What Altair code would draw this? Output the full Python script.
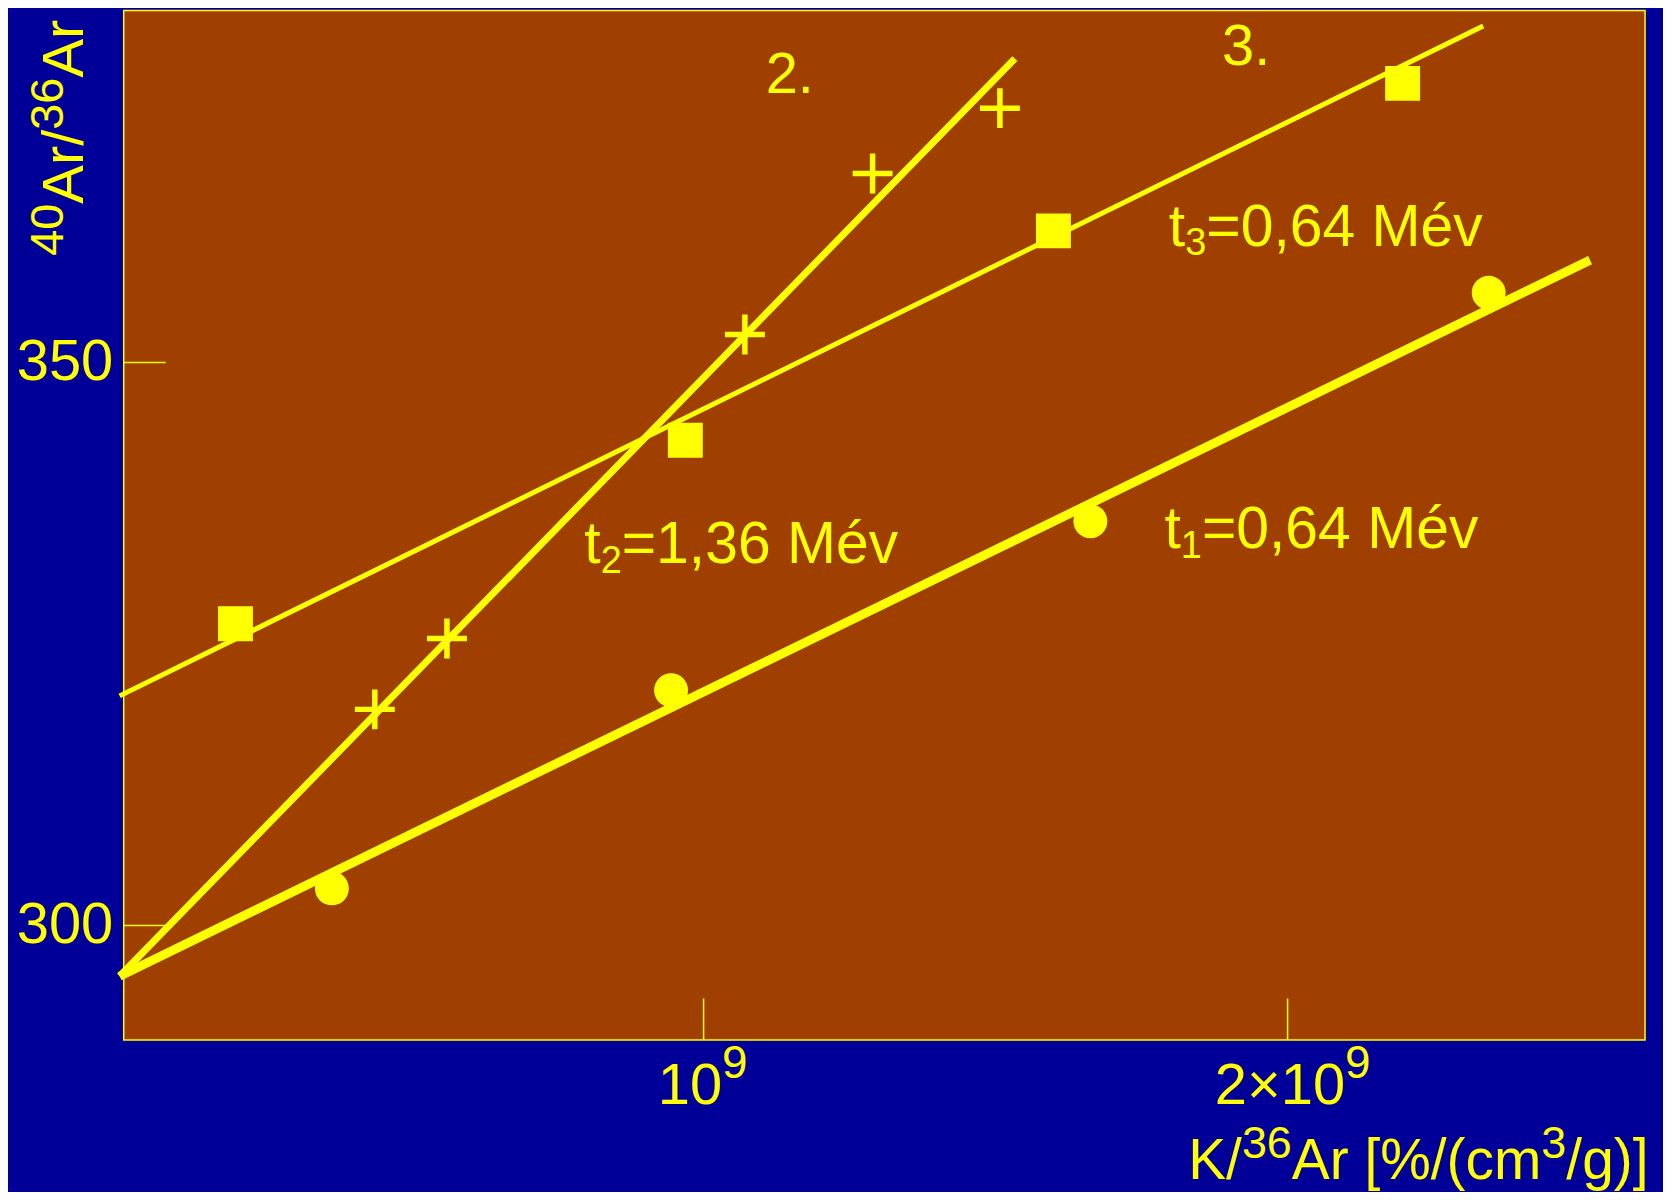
import altair as alt
import pandas as pd

# ---------------- values ----------------
# series 1: circles (t1 = 0,64 Mév)
circ_x = [0.3635e9, 0.9443e9, 1.6623e9, 2.3444e9]
circ_y = [303.3, 320.9, 335.9, 356.2]
# series 2: crosses (t2 = 1,36 Mév)
cross_x = [0.437e9, 0.5605e9, 1.0707e9, 1.2894e9, 1.5074e9]
cross_y = [319.2, 325.5, 352.5, 366.8, 372.6]
# series 3: squares (t3 = 0,64 Mév)
sq_x = [0.1983e9, 0.9687e9, 1.599e9, 2.197e9]
sq_y = [326.8, 343.1, 361.7, 374.8]
# fitted isochrons (start, end)
fit1_x = [0.0, 2.518e9]
fit1_y = [295.5, 359.1]
fit2_x = [0.0, 1.533e9]
fit2_y = [295.5, 377.0]
fit3_x = [0.0, 2.335e9]
fit3_y = [320.4, 379.9]
# axes
x_ticks = [1e9, 2e9]
y_ticks = [300, 350]
x_domain = [0.007e9, 2.6121e9]
y_domain = [289.84, 381.28]
# annotations
num_text = ["2.", "3."]
num_x = [1.1063e9, 1.8878e9]
num_y = [373.95, 376.47]
age_sub = ["1", "2", "3"]
age_rest = ["=0,64 Mév", "=1,36 Mév", "=0,64 Mév"]
age_x = [1.7892e9, 0.7957e9, 1.7967e9]
age_y = [333.5, 332.2, 360.4]

# ---------------- style ----------------
FONT = "Liberation Sans"
YELLOW = "#FFFF00"
BLUE = "#000099"
BROWN = "#A04000"
W, H = 1525, 1032
PAD_L, PAD_T, PAD_R, PAD_B = 116, 1, 18, 151


def rx(ax):
    return ax - 8 - PAD_L


def ry(ay):
    return ay - 8 - PAD_T


ADV = {"0": .556, "1": .556, "2": .556, "3": .556, "4": .556, "5": .556,
       "6": .556, "7": .556, "8": .556, "9": .556, "A": .667, "r": .333,
       "/": .278, "K": .667, " ": .278, "[": .278, "]": .278, "%": .889,
       "(": .333, ")": .333, "c": .5, "m": .833, "g": .556, "×": .584,
       "t": .278, "=": .584, ",": .278, "M": .833, "é": .556, "v": .5,
       ".": .278}


def adv(s, size):
    return sum(ADV.get(ch, 0.556) for ch in s) * size


xscale = alt.Scale(domain=x_domain, nice=False, zero=False)
yscale = alt.Scale(domain=y_domain, nice=False, zero=False)
yaxis = alt.Axis(values=y_ticks, title=None, labelFont=FONT, labelFontSize=58,
                 labelColor=YELLOW, ticks=False, tickSize=0, domain=False,
                 grid=False, labelPadding=11)


def X():
    return alt.X("x:Q", scale=xscale, axis=None)


def Y():
    return alt.Y("y:Q", scale=yscale, axis=yaxis)


ONE = pd.DataFrame({"a": [0]})


def piece(text, size, x, y, dx=0, dy=0, angle=None, data=None):
    mk = dict(text=text, font=FONT, fontSize=size, color=YELLOW,
              align="left", baseline="alphabetic", dx=dx, dy=dy)
    if angle is not None:
        mk["angle"] = angle
    return alt.Chart(ONE if data is None else data).mark_text(**mk).encode(x=x, y=y)


layers = []

# fitted lines
for xs, ys, w in [(fit1_x, fit1_y, 9), (fit2_x, fit2_y, 7), (fit3_x, fit3_y, 5)]:
    layers.append(
        alt.Chart(pd.DataFrame({"x": xs, "y": ys}))
        .mark_line(color=YELLOW, strokeWidth=w, clip=False)
        .encode(x=X(), y=Y())
    )

# markers
layers.append(
    alt.Chart(pd.DataFrame({"x": circ_x, "y": circ_y}))
    .mark_point(shape="circle", filled=True, size=1156, color=YELLOW, opacity=1)
    .encode(x=X(), y=Y())
)
layers.append(
    alt.Chart(pd.DataFrame({"x": sq_x, "y": sq_y}))
    .mark_point(shape="square", filled=True, size=1225, color=YELLOW, opacity=1)
    .encode(x=X(), y=Y())
)
layers.append(
    alt.Chart(pd.DataFrame({"x": cross_x, "y": cross_y}))
    .mark_point(shape="M-1,0H1M0,-1V1", filled=False, size=1600, color=YELLOW,
                strokeWidth=5.5, opacity=1)
    .encode(x=X(), y=Y())
)

# inward ticks
layers.append(
    alt.Chart(pd.DataFrame({"x": x_ticks}))
    .mark_rule(color=YELLOW, strokeWidth=1.5)
    .encode(x=X(), y=alt.value(H - 41.5), y2=alt.value(H))
)
layers.append(
    alt.Chart(pd.DataFrame({"y": y_ticks}))
    .mark_rule(color=YELLOW, strokeWidth=1.5)
    .encode(y=Y(), x=alt.value(0), x2=alt.value(42))
)

# x tick labels with superscripts
for tx, main, dx0 in [(x_ticks[0], "10", -46.0), (x_ticks[1], "2×10", -73.0)]:
    d = pd.DataFrame({"x": [tx]})
    layers.append(piece(main, 58, X(), alt.value(ry(1105)), dx=dx0, data=d))
    layers.append(piece("9", 46, X(), alt.value(ry(1079)),
                        dx=dx0 + adv(main, 58), data=d))

# x title
cur = 1191.0
for t, s, raise_ in [("K/", 57, 0), ("36", 45, 21), ("Ar [%/(cm", 57, 0),
                     ("3", 45, 21), ("/g)]", 57, 0)]:
    layers.append(piece(t, s, alt.value(rx(cur)), alt.value(ry(1180 - raise_))))
    cur += adv(t, s)

# y title (rotated)
cur = 255.0
for t, s, base in [("40", 47, 63.3), ("Ar/", 58, 83.3), ("36", 47, 63.3), ("Ar", 58, 83.3)]:
    layers.append(piece(t, s, alt.value(rx(base)), alt.value(ry(cur)), angle=270))
    cur -= adv(t, s)

# annotations "2." / "3."
layers.append(
    alt.Chart(pd.DataFrame({"x": num_x, "y": num_y, "t": num_text}))
    .mark_text(font=FONT, fontSize=58, color=YELLOW, align="left", baseline="alphabetic")
    .encode(x=X(), y=Y(), text="t:N")
)

# age labels t_i=...
ages = pd.DataFrame({"x": age_x, "y": age_y, "sub": age_sub, "rest": age_rest})
d_sub = adv("t", 59)
d_rest = d_sub + adv("1", 38)
layers.append(
    alt.Chart(ages).mark_text(text="t", font=FONT, fontSize=59, color=YELLOW,
                              align="left", baseline="alphabetic")
    .encode(x=X(), y=Y())
)
layers.append(
    alt.Chart(ages).mark_text(font=FONT, fontSize=38, color=YELLOW, align="left",
                              baseline="alphabetic", dx=d_sub, dy=10)
    .encode(x=X(), y=Y(), text="sub:N")
)
layers.append(
    alt.Chart(ages).mark_text(font=FONT, fontSize=59, color=YELLOW, align="left",
                              baseline="alphabetic", dx=d_rest)
    .encode(x=X(), y=Y(), text="rest:N")
)

chart = (
    alt.layer(*layers)
    .properties(
        width=W, height=H, background=BLUE,
        autosize=alt.AutoSizeParams(type="none"),
        padding={"left": PAD_L, "top": PAD_T, "right": PAD_R, "bottom": PAD_B},
    )
    .configure_view(fill=BROWN, stroke=YELLOW, strokeWidth=1.5)
)

chart.save("out.html", embed_options={"renderer": "svg", "actions": False})
